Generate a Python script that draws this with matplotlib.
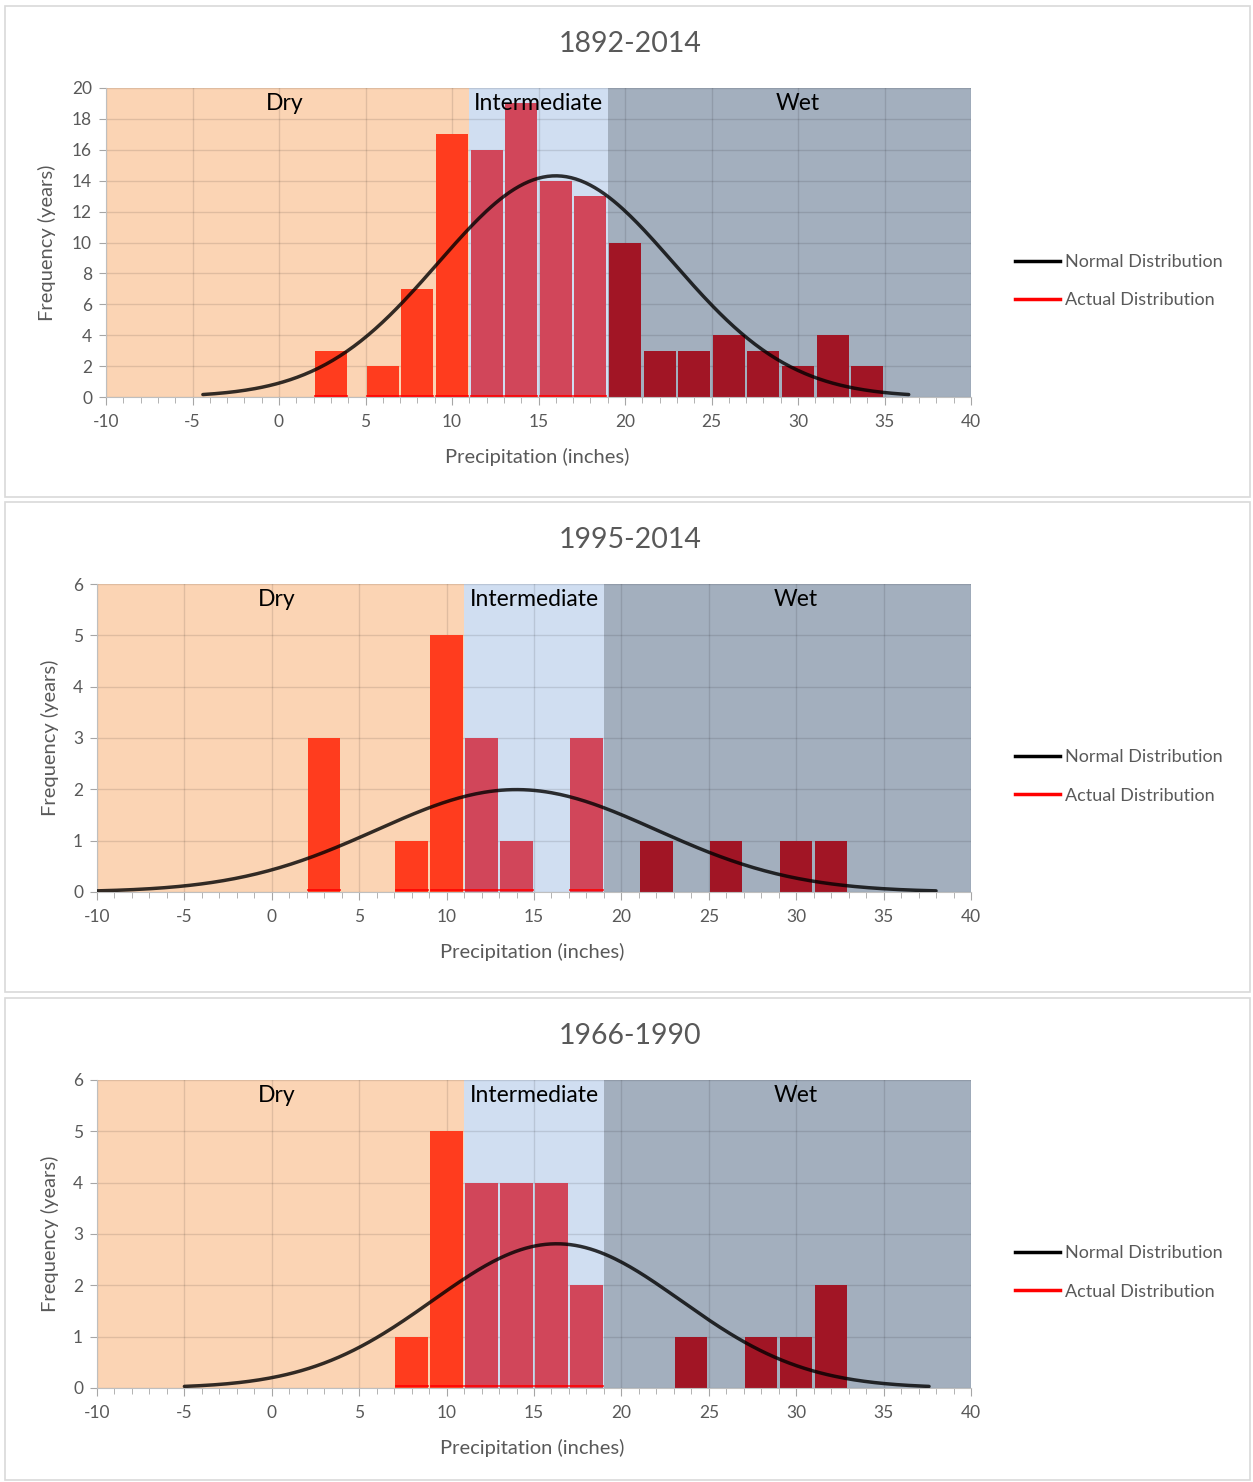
import numpy as np
import matplotlib
matplotlib.use('Agg')
import matplotlib.pyplot as plt
from matplotlib.patches import Rectangle
from matplotlib.lines import Line2D

plt.rcParams['font.family'] = ['Lato', 'DejaVu Sans']
plt.rcParams['axes.unicode_minus'] = False

titles = ['1892-2014', '1995-2014', '1966-1990']

# histogram bars: bin centre (inches) and number of years
centers_1 = [3, 6, 8, 10, 12, 14, 16, 18, 20, 22, 24, 26, 28, 30, 32, 34]
counts_1 = [3, 2, 7, 17, 16, 19, 14, 13, 10, 3, 3, 4, 3, 2, 4, 2]
centers_2 = [3, 8, 10, 12, 14, 18, 22, 26, 30, 32]
counts_2 = [3, 1, 5, 3, 1, 3, 1, 1, 1, 1]
centers_3 = [8, 10, 12, 14, 16, 18, 24, 28, 30, 32]
counts_3 = [1, 5, 4, 4, 4, 2, 1, 1, 1, 2]

# normal fit for each period
norm_mean = [16.0, 14.0, 16.3]
norm_std = [6.8, 8.0, 7.1]
bin_width = 2

y_max = [20, 6, 6]
y_step = [2, 1, 1]

zones = ['Dry', 'Intermediate', 'Wet']
zone_edges = [-10, 11, 19, 40]
zone_label_x = [0.3, 15, 30]
zone_colors = ['#FBD4B4', '#D0DEF1', '#A3AFBE']
bar_colors = ['#FF3C1E', '#D1465A', '#A11525']

W, H = 1253, 1482
fig = plt.figure(figsize=(W / 100, H / 100), dpi=100)

# pixel layout of each panel: box (x0, y0, x1, y1), axes (left, top, right, bottom), title y
boxes = [(5, 6, 1250, 497), (5, 502, 1250, 992), (5, 998, 1250, 1480)]
axes_px = [(106, 88, 971, 397), (97, 584, 971, 892), (97, 1080, 971, 1388)]
title_y = [44, 540, 1036]

data = [(centers_1, counts_1), (centers_2, counts_2), (centers_3, counts_3)]
grey_txt = '#595959'

for i in range(3):
    x0, y0, x1, y1 = boxes[i]
    fig.patches.append(Rectangle((x0 / W, 1 - y1 / H), (x1 - x0) / W, (y1 - y0) / H,
                                 transform=fig.transFigure, fill=False,
                                 edgecolor='#D9D9D9', lw=1.2))
    l, t, r, b = axes_px[i]
    ax = fig.add_axes([l / W, 1 - b / H, (r - l) / W, (b - t) / H])
    fig.text(630 / W, 1 - title_y[i] / H, titles[i], ha='center', va='center',
             fontsize=20.5, color=grey_txt)

    for z in range(3):
        ax.axvspan(zone_edges[z], zone_edges[z + 1], color=zone_colors[z], zorder=0.5, lw=0)
        ax.text(zone_label_x[z], 0.95, zones[z], transform=ax.get_xaxis_transform(),
                ha='center', va='center', fontsize=16.5, color='black', zorder=5)

    centers, counts = data[i]
    cols = []
    for c in centers:
        if c < zone_edges[1]:
            cols.append(bar_colors[0])
        elif c < zone_edges[2]:
            cols.append(bar_colors[1])
        else:
            cols.append(bar_colors[2])
    ax.bar(centers, counts, width=1.85, color=cols, zorder=2, lw=0)
    for c in centers:
        if c < zone_edges[2]:
            ax.plot([c - 0.92, c + 0.92], [0.04 * y_step[i], 0.04 * y_step[i]],
                    color='#FF0000', lw=1.2, zorder=2.5)

    n = sum(counts)
    mu, sd = norm_mean[i], norm_std[i]
    xs = np.linspace(mu - 3 * sd, mu + 3 * sd, 300)
    ys = n * bin_width / (sd * np.sqrt(2 * np.pi)) * np.exp(-(xs - mu) ** 2 / (2 * sd ** 2))
    ax.plot(xs, ys, color='black', alpha=0.8, lw=2.5, zorder=3, solid_capstyle='round')

    ax.set_xlim(-10, 40)
    ax.set_ylim(0, y_max[i])
    ax.set_xticks(np.arange(-10, 41, 5))
    ax.set_xticks(np.arange(-10, 41, 1), minor=True)
    ax.set_yticks(np.arange(0, y_max[i] + 0.01, y_step[i]))
    ax.set_axisbelow('line')
    ax.grid(True, which='major', color='black', alpha=0.11, lw=1)
    for s in ['top', 'right']:
        ax.spines[s].set_visible(False)
    for s in ['left', 'bottom']:
        ax.spines[s].set_color('#BFBFBF')
    ax.tick_params(axis='both', which='both', direction='out', color='#A6A6A6',
                   labelcolor=grey_txt, labelsize=12.5)
    ax.tick_params(axis='x', which='major', length=6, pad=6)
    ax.tick_params(axis='x', which='minor', length=4)
    ax.tick_params(axis='y', which='major', length=5, pad=5)

    ax.text(0.498, -0.194, 'Precipitation (inches)', transform=ax.transAxes,
            ha='center', va='center', fontsize=14.5, color=grey_txt)
    ylab_x = (47 - l) / (r - l) if i == 0 else (50 - l) / (r - l)
    ax.text(ylab_x, 0.5, 'Frequency (years)', transform=ax.transAxes, rotation=90,
            ha='center', va='center', fontsize=14.5, color=grey_txt)

    handles = [Line2D([], [], color='black', lw=2.5), Line2D([], [], color='#FF0000', lw=2.5)]
    ax.legend(handles, ['Normal Distribution', 'Actual Distribution'], loc='center left',
              bbox_to_anchor=(1.032, 0.375), frameon=False, fontsize=13,
              handlelength=2.5, handletextpad=0.25, labelspacing=1.25, labelcolor=grey_txt)

fig.savefig('out.png', dpi=100)
